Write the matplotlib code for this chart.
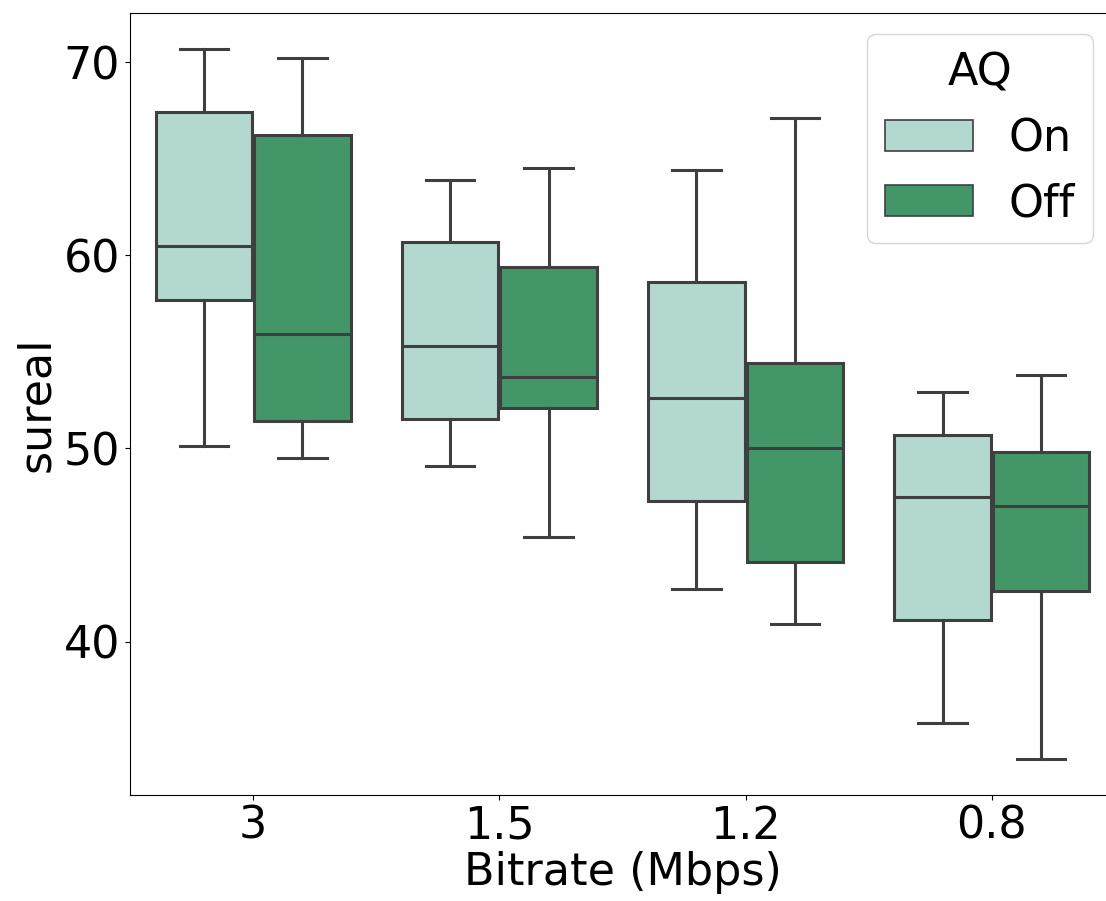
import numpy as np
import matplotlib.pyplot as plt
from matplotlib.patches import Patch

# bitrate categories and AQ setting
bitrates = ["3", "1.5", "1.2", "0.8"]
aq_levels = ["On", "Off"]

# box statistics per bitrate: lower whisker, q1, median, q3, upper whisker
on_whislo = [50.1, 49.1, 42.7, 35.8]
on_q1 = [57.7, 51.5, 47.3, 41.1]
on_med = [60.5, 55.3, 52.6, 47.5]
on_q3 = [67.4, 60.7, 58.6, 50.7]
on_whishi = [70.7, 63.9, 64.4, 52.9]

off_whislo = [49.5, 45.4, 40.9, 33.9]
off_q1 = [51.4, 52.1, 44.1, 42.6]
off_med = [55.9, 53.7, 50.0, 47.0]
off_q3 = [66.2, 59.4, 54.4, 49.8]
off_whishi = [70.2, 64.5, 67.1, 53.8]

colors = ["#b2d8cf", "#439668"]
edge = "#3f3f3f"

plt.rcParams['font.family'] = ['DejaVu Sans']


def make_stats(lo, q1, med, q3, hi):
    return [dict(whislo=a, q1=b, med=c, q3=d, whishi=e, fliers=[])
            for a, b, c, d, e in zip(lo, q1, med, q3, hi)]


fig = plt.figure(figsize=(11.06, 9.01), dpi=100)
ax = fig.add_axes([130 / 1106, 106 / 901, 985 / 1106, 782 / 901])

groups = [
    make_stats(on_whislo, on_q1, on_med, on_q3, on_whishi),
    make_stats(off_whislo, off_q1, off_med, off_q3, off_whishi),
]
x = np.arange(len(bitrates))
width = 0.392
for k, stats in enumerate(groups):
    pos = x + (k - 0.5) * 0.4
    ax.bxp(stats, positions=pos, widths=width, capwidths=width / 2,
           showfliers=False, patch_artist=True,
           boxprops=dict(facecolor=colors[k], edgecolor=edge, linewidth=2.2),
           medianprops=dict(color=edge, linewidth=2.2),
           whiskerprops=dict(color=edge, linewidth=2.2),
           capprops=dict(color=edge, linewidth=2.2),
           manage_ticks=False)

ax.set_xlim(-0.5, len(bitrates) - 0.5)
ax.set_xticks(x)
ax.set_xticklabels(bitrates)
ax.set_yticks([40, 50, 60, 70])
ax.tick_params(labelsize=32)
ax.set_xlabel("Bitrate (Mbps)", fontsize=32, labelpad=2)
ax.set_ylabel("sureal", fontsize=32)

handles = [Patch(facecolor=c, edgecolor=edge, linewidth=1.2) for c in colors]
leg = ax.legend(handles, aq_levels, title="AQ", fontsize=32, title_fontsize=32,
                loc="upper right", bbox_to_anchor=(963 / 985, 1 - 21 / 782),
                borderaxespad=0)

fig.savefig("out.png", dpi=100)
